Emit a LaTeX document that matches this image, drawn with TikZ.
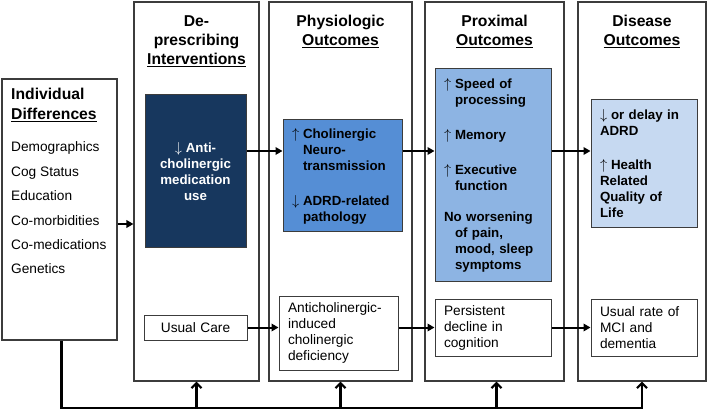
\documentclass[tikz,border=0pt]{standalone}
\usepackage{fontspec}
\setmainfont{Liberation Sans}
\usetikzlibrary{arrows.meta,calc}
\definecolor{navyc}{RGB}{23,55,94}
\definecolor{physc}{RGB}{85,142,213}
\definecolor{proxc}{RGB}{141,180,227}
\definecolor{disc}{RGB}{198,217,241}
\definecolor{edgec}{RGB}{60,60,60}
\newcommand{\aU}{\makebox[11pt][l]{$\uparrow$}}
\newcommand{\aD}{\makebox[11pt][l]{$\downarrow$}}
\newcommand{\hang}{\hspace*{11pt}}
\tikzset{
  col/.style={draw=edgec, line width=1.1pt, inner sep=0pt},
  inbox/.style={draw=edgec, line width=1pt, inner xsep=9pt, inner ysep=0pt, align=left},
  hdr/.style={font=\bfseries\fontsize{15.7}{19}\selectfont, align=center, inner sep=0pt},
  body/.style={font=\fontsize{13.7}{16}\selectfont},
  bbody/.style={font=\bfseries\fontsize{13.3}{16}\selectfont},
  harr/.style={line width=2pt, -{Triangle[length=7pt,width=7.5pt]}},
  uarr/.style={line width=2.4pt, -{Straight Barb[length=5pt,width=10pt,line width=2.2pt]}},
}
\begin{document}
\begin{tikzpicture}[x=1pt,y=-1pt]
\useasboundingbox (0,0) rectangle (708,411);
% columns
\node[col, minimum width=115pt, minimum height=261pt] (ind) at (59.5,209.5) {};
\node[col, minimum width=125pt, minimum height=379pt] (c1) at (196.5,191.5) {};
\node[col, minimum width=143pt, minimum height=379pt] (c2) at (340.5,191.5) {};
\node[col, minimum width=139pt, minimum height=379pt] (c3) at (494.5,191.5) {};
\node[col, minimum width=128pt, minimum height=379pt] (c4) at (642,191.5) {};
% headers
\node[hdr] (h1) at (196.5,41) {De-\\prescribing\\\underline{Interventions}};
\node[hdr] (h2) at (340.5,31.5) {Physiologic\\\underline{Outcomes}};
\node[hdr] (h3) at (494.5,31.5) {Proximal\\\underline{Outcomes}};
\node[hdr] (h4) at (642,31.5) {Disease\\\underline{Outcomes}};
\node[hdr, align=left, anchor=west, font=\bfseries\fontsize{15.7}{20}\selectfont] (hi) at (11,105) {Individual\\\underline{Differences}};
\node[align=left, anchor=west, inner sep=0pt, font=\fontsize{13.7}{24.4}\selectfont] (li) at (11,208) {Demographics\\Cog Status\\Education\\Co-morbidities\\Co-medications\\Genetics};
% inner boxes
\node[inbox, fill=navyc, text=white, align=center, minimum width=101pt, minimum height=153pt, text width=83pt, bbody] (navy) at (195.5,171.5) {\aD Anti-\\cholinergic\\medication\\use};
\node[inbox, align=center, minimum width=103pt, minimum height=25pt, text width=85pt, body] (usual) at (195.5,327.5) {Usual Care};
\node[inbox, fill=physc, minimum width=119pt, minimum height=112pt, text width=101pt, bbody] (phys) at (342.5,176) {\aU Cholinergic\\\hang Neuro-\\\hang transmission\\[19pt]\aD ADRD-related\\\hang pathology};
\node[inbox, minimum width=119pt, minimum height=74pt, text width=101pt, body] (anti) at (338.5,333) {Anticholinergic-\\induced\\cholinergic\\deficiency};
\node[inbox, fill=proxc, minimum width=116pt, minimum height=212pt, text width=98pt, bbody, inner xsep=9pt] (prox) at (493,175) {\aU Speed of\\\hang processing\\[19pt]\aU Memory\\[19pt]\aU Executive\\\hang function\\[15pt]No worsening\\\hang of pain,\\\hang mood, sleep\\\hang symptoms};
\node[inbox, minimum width=116pt, minimum height=57pt, text width=98pt, body] (pers) at (493,327.5) {Persistent\\decline in\\cognition};
\node[inbox, fill=disc, minimum width=106pt, minimum height=128pt, text width=88pt, bbody] (dis) at (644,164) {\aD or delay in\\ADRD\\[18pt]\aU Health\\Related\\Quality of\\Life};
\node[inbox, minimum width=106pt, minimum height=57pt, text width=88pt, body] (rate) at (644,327.5) {Usual rate of\\MCI and\\dementia};
% connectors
\coordinate (r1) at (0,151);
\coordinate (r0) at (0,224);
\coordinate (bot) at (0,408);
\draw[harr] (ind.east |- r0) -- (c1.west |- r0);
\draw[harr] (navy.east |- r1) -- (phys.west |- r1);
\draw[harr] (phys.east |- r1) -- (prox.west |- r1);
\draw[harr] (prox.east |- r1) -- (dis.west |- r1);
\draw[harr] (usual.east) -- (anti.west |- usual.east);
\draw[harr] (anti.east |- pers.west) -- (pers.west);
\draw[harr] (pers.east) -- (rate.west);
\coordinate (bl) at ([xshift=2pt]ind.south);
\draw[line width=2.4pt] (bl) -- (bl |- bot) -- ([xshift=1.2pt]c4.south |- bot);
\draw[uarr] (c1.south |- bot) -- (c1.south);
\draw[uarr] (c2.south |- bot) -- (c2.south);
\draw[uarr] ([xshift=2pt]c3.south |- bot) -- ([xshift=2pt]c3.south);
\draw[uarr] (c4.south |- bot) -- (c4.south);
\end{tikzpicture}
\end{document}
